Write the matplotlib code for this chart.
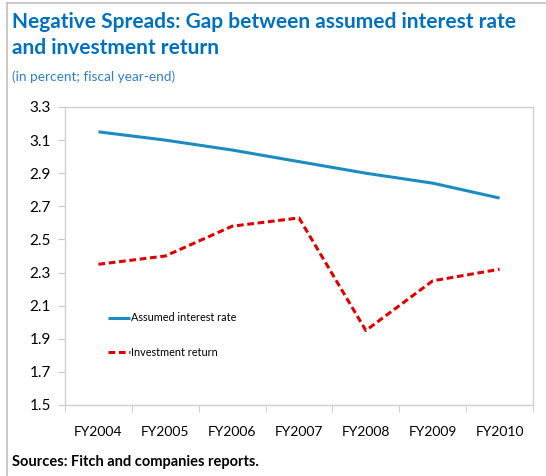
import matplotlib
matplotlib.use("Agg")
import matplotlib.pyplot as plt
from matplotlib.lines import Line2D

# Fiscal years and rates (percent)
years = ["FY2004", "FY2005", "FY2006", "FY2007", "FY2008", "FY2009", "FY2010"]
assumed_rate = [3.15, 3.10, 3.04, 2.97, 2.90, 2.84, 2.75]
investment_return = [2.35, 2.40, 2.58, 2.63, 1.95, 2.25, 2.32]
y_ticks = [1.5, 1.7, 1.9, 2.1, 2.3, 2.5, 2.7, 2.9, 3.1, 3.3]

plt.rcParams['font.family'] = ['Lato', 'DejaVu Sans']

fig = plt.figure(figsize=(5.46, 4.76), dpi=100)
ax = fig.add_axes([65 / 546, 1 - 405 / 476, 468 / 546, 298 / 476])

x = list(range(len(years)))
ax.plot(x, assumed_rate, color='#1a8cc2', linewidth=2.2, solid_capstyle='butt',
        label='Assumed interest rate')
ax.plot(x, investment_return, color='#e00000', linewidth=2.2, linestyle=(0, (2.2, 1.2)),
        label='Investment return')

ax.set_xlim(-0.5, len(years) - 0.5)
ax.set_ylim(1.5, 3.3)
ax.set_yticks(y_ticks)
ax.set_yticklabels([f"{v:.1f}" for v in y_ticks], fontsize=11)
ax.set_xticks(x)
ax.set_xticklabels(years, fontsize=10)
ax.tick_params(axis='x', length=0, pad=15)
# category separators on the x axis
ax.set_xticks([i + 0.5 for i in range(-1, len(years))], minor=True)
ax.tick_params(axis='x', which='minor', length=5, color='#c8c8c8', direction='out')
ax.tick_params(axis='y', length=5, color='#c8c8c8', direction='out', pad=5)
for s in ax.spines.values():
    s.set_color('#d0d0d0')
    s.set_linewidth(1.0)

ax.legend(loc='center left', bbox_to_anchor=(0.07, 0.235), frameon=False,
          handlelength=2.1, handletextpad=0.05, labelspacing=2.15,
          prop={'size': 7.8})

# titles and source
fig.text(12 / 546, 1 - 22 / 476, "Negative Spreads: Gap between assumed interest rate",
         fontsize=15, fontweight='bold', color='#0070c0', va='center')
fig.text(12 / 546, 1 - 48 / 476, "and investment return",
         fontsize=15, fontweight='bold', color='#0070c0', va='center')
fig.text(12 / 546, 1 - 77 / 476, "(in percent; fiscal year-end)",
         fontsize=9.8, color='#2e7fd0', va='center')
fig.text(12 / 546, 1 - 462 / 476, "Sources: Fitch and companies reports.",
         fontsize=10.5, fontweight='bold', color='black', va='center')

# outer frame lines
fig.add_artist(Line2D([7 / 546, 1], [1 - 3 / 476, 1 - 3 / 476], color='#c0c0c0', linewidth=1.2))
fig.add_artist(Line2D([7 / 546, 7 / 546], [0, 1 - 3 / 476], color='#c0c0c0', linewidth=1.2))

fig.savefig("out.png", dpi=100)
